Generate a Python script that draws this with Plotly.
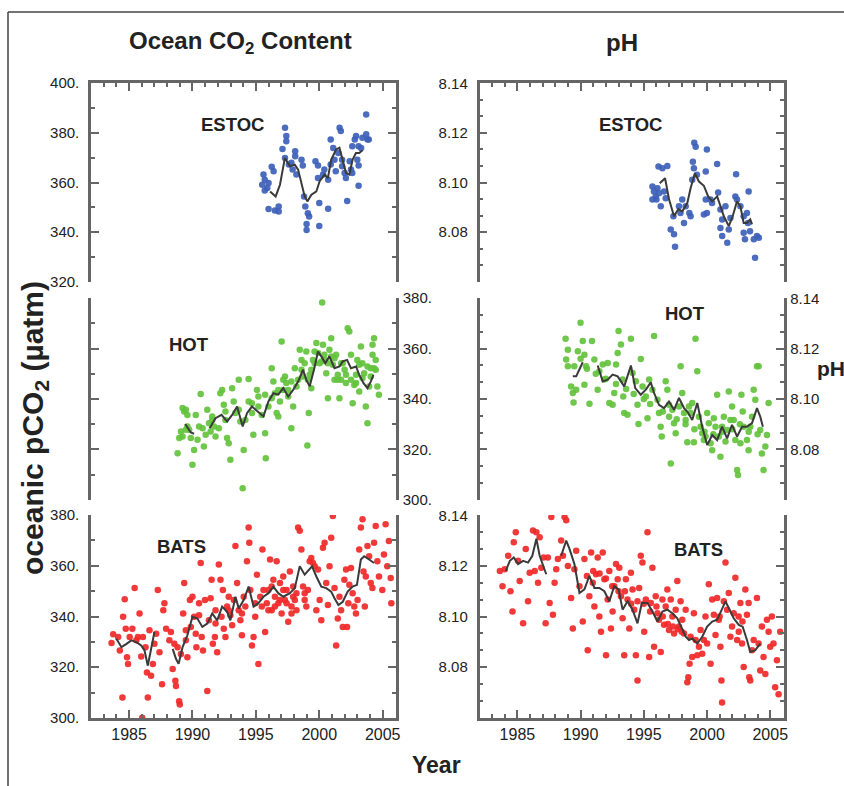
import plotly.graph_objects as go

# ---------------- DATA ----------------
years_axis_ticks = [1985, 1990, 1995, 2000, 2005]

# ESTOC pCO2
estoc_pco2_year = [1995.6,1995.7,1995.5,1995.9,1996.0,1995.7,1996.25,1996.4,1996.0,1996.5,1996.8,1996.8,1997.1,1997.3,1997.4,1997.4,1997.3,1997.6,1997.8,1998.1,1998.1,1997.9,1998.2,1998.6,1998.7,1998.8,1998.9,1999.1,1999.0,1999.0,1999.2,1999.7,1999.9,2000.0,2000.0,1999.9,2000.3,2000.4,2000.7,2000.7,2000.9,2000.9,2001.1,2001.2,2001.3,2001.5,2001.6,2001.7,2001.8,2001.8,2002.0,2002.1,2002.2,2002.4,2002.5,2002.6,2002.8,2002.9,2003.0,2003.1,2003.1,2003.3,2003.4,2003.7,2003.8,2003.9,2003.7,2003.1,2002.6]
estoc_pco2_val = [363.2,361.1,359.1,357.8,359.8,356.8,366.3,364.5,349.3,348.7,350.3,348.3,373.5,382.0,378.7,376.6,369.9,367.2,367.9,372.6,370.6,365.2,363.2,369.2,366.8,354.4,350.3,347.6,343.3,340.9,346.3,368.6,366.8,351.7,342.5,361.8,363.2,365.2,349.4,361.1,367.2,377.3,373.9,369.2,364.5,371.9,382.0,380.7,369.2,366.5,363.8,361.8,352.6,368.6,365.2,374.6,377.3,378.7,369.2,366.8,358.7,373.9,378.0,387.4,377.3,377.3,379.4,374.6,363.8]
estoc_pco2_line_year = [1996.12,1996.56,1996.9,1997.29,1997.68,1998.07,1998.33,1998.59,1998.85,1999.06,1999.38,1999.77,2000.03,2000.42,2000.68,2000.94,2001.33,2001.59,2001.85,2002.11,2002.37,2002.63,2002.89,2003.15,2003.41]
estoc_pco2_line_val = [356.4,354.4,359.1,369.9,366.5,367.2,365.2,359.1,354.4,352.4,355.1,356.4,360.5,363.2,361.8,369.2,373.3,374.0,369.2,363.8,363.2,369.2,371.9,371.9,373.0]

# ESTOC pH
estoc_ph_year = [1995.68,1995.8,1995.94,1995.68,1996.08,1996.2,1996.0,1996.16,1996.47,1996.86,1996.34,1996.73,1996.6,1997.13,1997.39,1997.47,1997.34,1997.78,1997.9,1998.18,1998.04,1998.31,1998.6,1998.7,1998.83,1998.88,1998.99,1999.1,1998.96,1999.2,1999.75,1999.99,1999.99,1999.9,1999.9,2000.27,2000.4,2000.8,2000.88,2001.06,2001.2,2001.06,2001.2,2001.46,2001.6,2001.72,2001.85,2002.3,2002.24,2002.37,2002.64,2002.9,2002.9,2003.0,2003.16,2003.29,2003.24,2003.4,2003.7,2003.8,2003.95,2004.1]
estoc_ph_val = [8.0984,8.0964,8.0944,8.0931,8.0977,8.0957,8.0931,8.1064,8.1057,8.1067,8.0904,8.0937,8.0964,8.0811,8.0791,8.0741,8.0864,8.0904,8.0877,8.0837,8.0931,8.0904,8.0877,8.0864,8.1011,8.1084,8.1160,8.1144,8.1057,8.1031,8.0871,8.0877,8.1133,8.1044,8.0931,8.0931,8.0917,8.1075,8.0960,8.0891,8.0851,8.0817,8.0784,8.0904,8.0757,8.0811,8.0857,8.1033,8.0944,8.0931,8.0904,8.0864,8.0797,8.0771,8.0877,8.0964,8.0837,8.0804,8.0771,8.0697,8.0784,8.0777]
estoc_ph_line_year = [1996.26,1996.68,1997.0,1997.39,1997.73,1998.04,1998.44,1998.7,1999.04,1999.36,1999.75,2000.09,2000.41,2000.8,2001.07,2001.33,2001.72,2002.03,2002.37,2002.64,2002.9,2003.16,2003.42,2003.56]
estoc_ph_line_val = [8.0997,8.1017,8.0931,8.0864,8.0893,8.0884,8.0917,8.0977,8.1037,8.1004,8.0987,8.0944,8.0924,8.0944,8.0904,8.0864,8.0824,8.0864,8.0924,8.0904,8.0837,8.0837,8.0851,8.0831]

# HOT pCO2
hot_pco2_year = [1988.83,1988.96,1989.09,1989.22,1989.35,1989.48,1989.6,1989.6,1989.74,1989.87,
                 1990.0,1990.13,1990.26,1990.4,1990.65,1990.8,1990.9,1991.04,1991.17,1991.3,
                 1991.43,1991.56,1991.7,1991.82,1992.08,1992.2,1992.34,1992.47,1992.6,1992.73,
                 1992.86,1992.99,1993.13,1993.25,1993.38,1993.65,1993.78,1994.04,1994.17,1994.43,
                 1994.43,1994.7,1994.8,1995.08,1995.2,1995.47,1995.73,1995.78,1995.99,1996.25,
                 1996.38,1996.5,1996.64,1996.77,1996.9,1997.03,1997.16,1997.3,1997.4,1997.55,
                 1997.8,1997.94,1998.07,1998.33,1998.46,1998.6,1998.7,1998.85,1998.98,1999.06,
                 1999.17,1999.24,1999.37,1999.5,1999.63,1999.77,1999.9,2000.03,2000.23,2000.29,
                 2000.4,2000.55,2000.68,2000.8,2000.94,2001.07,2001.2,2001.33,2001.46,2001.59,
                 2001.72,2001.85,2002.0,2002.1,2002.24,2002.37,2002.5,2002.63,2002.76,2002.9,
                 2003.0,2003.15,2003.28,2003.4,2003.54,2003.67,2003.8,2003.93,2004.06,2004.2,
                 2004.32,2004.45,2004.58,2004.7,2004.32,2004.2,1993.96,
                 1997.16,1997.55,1997.8,1998.2,1998.6,1999.1,1999.37,1999.63,2000.16,2000.42,
                 2000.68,2000.94,2001.2,2001.46,2001.72,2002.11,2002.5,2002.9,2003.15,2003.41,
                 2003.8,2004.06,2004.45,1994.69,1995.2,1995.73,1996.25,1996.77,1993.65,1992.6,
                 1991.56,1990.52,1989.48,1989.22]
hot_pco2_val = [318.5,324.5,327.1,336.4,335.0,335.7,333.7,329.1,327.8,324.5,
                313.9,319.8,333.7,323.8,342.0,328.4,321.2,325.8,335.7,330.4,
                327.1,333.1,329.1,325.1,328.4,342.3,343.6,337.7,331.7,324.5,
                322.5,315.9,344.3,339.0,334.4,347.6,331.1,319.8,331.7,347.9,
                339.0,334.4,325.8,343.6,337.0,333.7,326.4,316.5,337.0,352.2,
                346.9,342.3,334.4,333.1,339.0,362.8,343.6,348.9,346.3,341.0,
                328.4,337.0,352.2,347.6,359.5,355.5,348.9,354.2,358.8,321.6,
                334.4,349.6,344.3,355.5,358.8,362.2,358.2,354.2,378.3,361.5,
                357.5,350.2,340.3,359.5,364.1,353.6,347.6,357.5,349.6,340.3,
                347.6,354.2,351.6,346.3,368.1,366.8,357.5,338.3,345.6,349.6,
                355.5,343.0,360.8,354.2,350.2,337.0,330.4,345.0,352.2,357.5,
                364.1,355.5,345.0,341.7,352.2,361.5,304.6,
                347.6,343.6,346.9,345.0,351.6,347.6,351.6,354.2,354.9,355.5,
                354.2,356.9,356.2,347.6,354.2,349.6,347.6,346.3,353.6,348.3,
                352.9,348.9,351.6,338.3,341.0,341.7,340.3,343.6,335.7,335.0,
                331.7,329.1,327.8,325.1]
hot_pco2_line_year = [1989.43,1989.87,1990.13,None,1991.35,1991.82,1992.29,1992.73,1993.13,1993.52,1993.96,1994.3,1994.69,1995.2,1995.6,1995.99,1996.38,1996.77,1997.16,1997.55,1997.94,1998.33,1998.72,1998.98,1999.24,1999.58,1999.9,2000.2,2000.47,2000.8,2001.2,2001.59,2001.85,2002.19,2002.5,2002.9,2003.15,2003.49,2003.8,2004.06,2004.27]
hot_pco2_line_val = [330.1,326.7,326.2,None,328.4,332.4,333.7,331.1,333.7,337.0,329.1,334.4,337.0,335.0,333.1,339.0,342.3,341.7,344.3,341.0,343.6,346.9,351.6,347.6,345.0,351.6,358.8,356.6,354.2,356.9,352.2,352.9,354.9,355.5,352.2,352.9,349.6,346.3,344.3,346.9,349.6]

# HOT pH
hot_ph_year = [1988.81,1988.99,1988.86,1988.99,1989.25,1989.38,1989.44,1989.65,1989.78,1989.99,
               1990.17,1990.3,1990.43,1990.3,1990.7,1990.9,1991.09,1991.35,1991.48,1991.75,
               1991.88,1992.14,1992.27,1992.53,1992.66,1992.8,1992.93,1993.0,1993.19,1993.32,
               1993.37,1993.45,1993.71,1993.98,1994.11,1994.37,1994.5,1994.58,1994.76,1994.9,
               1995.16,1995.29,1995.42,1995.81,1995.68,1996.08,1996.2,1996.33,1996.42,1996.73,
               1996.86,1996.99,1997.13,1997.26,1997.39,1997.52,1997.78,1997.91,1998.04,1998.18,
               1998.31,1998.44,1998.57,1998.7,1998.83,1998.96,1999.09,1999.23,1999.36,1999.49,
               1999.62,1999.75,1999.88,2000.01,2000.14,2000.28,2000.41,2000.54,2000.67,2000.8,
               2000.93,2001.06,2001.19,2001.33,2001.46,2001.59,2001.72,2001.85,2001.98,2002.11,
               2002.24,2002.38,2002.45,2002.64,2002.72,2002.82,2002.9,2003.16,2003.29,2003.42,
               2003.56,2003.69,2003.82,2003.95,2004.08,2004.21,2004.34,2004.47,2004.61,2004.74,
               2004.87,
               1990.5,1991.2,1992.0,1992.8,1993.6,1994.2,1995.0,1995.5,1996.5,1997.0,
               1997.6,1998.3,1999.0,1999.8,2000.5,2001.2,2002.0,2002.6,2003.3,2004.0,
               1990.0,1989.5]
hot_ph_val = [8.1239,8.1196,8.1157,8.1130,8.1050,8.1024,8.0986,8.1037,8.1190,8.1303,
              8.1230,8.1176,8.1130,8.1057,8.0981,8.1230,8.1157,8.1037,8.1110,8.1137,
              8.1077,8.1143,8.0984,8.0977,8.1024,8.1137,8.1183,8.1270,8.1216,8.1077,
              8.1010,8.0944,8.0937,8.1239,8.1103,8.1070,8.0977,8.0901,8.1159,8.1050,
              8.1010,8.0924,8.1077,8.1250,8.1037,8.0997,8.0944,8.0890,8.0851,8.1070,
              8.1037,8.0977,8.0744,8.0957,8.0904,8.0864,8.0970,8.1130,8.1024,8.0944,
              8.0917,8.0828,8.0970,8.0944,8.0984,8.0828,8.1239,8.1110,8.0930,8.0890,
              8.0864,8.0837,8.0851,8.0944,8.0904,8.0824,8.0797,8.0924,8.0890,8.1017,
              8.0851,8.0771,8.0890,8.0930,8.0831,8.0877,8.1030,8.0917,8.0970,8.0917,
              8.0837,8.0718,8.0698,8.0824,8.1017,8.0950,8.0890,8.0837,8.0797,8.0890,
              8.0930,8.1037,8.0997,8.1130,8.1130,8.0877,8.0784,8.0718,8.0811,8.0857,
              8.0984,
              8.1120,8.1100,8.1080,8.1060,8.1040,8.1020,8.1000,8.0980,8.0950,8.0930,
              8.0920,8.0900,8.0880,8.0870,8.0860,8.0870,8.0880,8.0900,8.0870,8.0860,
              8.1160,8.1130]
hot_ph_line_year = [1989.38,1989.65,1989.9,1990.17,None,1991.35,1991.75,1992.14,1992.53,1992.93,1993.45,1993.98,1994.32,1994.76,1995.16,1995.55,1995.81,1996.2,1996.6,1996.99,1997.39,1997.78,1998.18,1998.44,1998.83,1999.23,1999.62,2000.01,2000.41,2000.8,2001.19,2001.59,2001.98,2002.38,2002.77,2003.16,2003.56,2003.95,2004.21,2004.42]
hot_ph_line_val = [8.1090,8.1090,8.1117,8.1146,None,8.1133,8.1070,8.1077,8.1097,8.1090,8.1050,8.1133,8.1043,8.1017,8.1037,8.1066,8.1024,8.0977,8.0964,8.0990,8.0957,8.1004,8.0964,8.0950,8.0917,8.0984,8.0890,8.0817,8.0857,8.0837,8.0890,8.0844,8.0897,8.0851,8.0890,8.0890,8.0904,8.0964,8.0930,8.0890]

# BATS pCO2
bats_pco2_year = [1983.62,1983.75,1984.14,1984.27,1984.48,1984.53,1984.66,1984.74,1984.84,1984.92,
                  1985.05,1985.26,1985.44,1985.57,1985.7,1985.83,1985.96,1986.04,1986.09,1986.3,
                  1986.41,1986.48,1986.61,1986.74,1986.88,1987.0,1987.14,1987.27,1987.4,1987.6,
                  1987.7,1987.79,1987.92,1988.18,1988.3,1988.44,1988.57,1988.65,1988.7,1988.83,
                  1988.95,1989.0,1989.09,1989.27,1989.35,1989.48,1989.6,1989.8,1989.87,1990.0,
                  1990.13,1990.26,1990.31,1990.52,1990.65,1990.73,1990.83,1990.99,1991.17,1991.3,
                  1991.43,1991.51,1991.61,1991.77,1991.82,1991.95,1992.08,1992.21,1992.29,1992.4,
                  1992.47,1992.6,1992.73,1992.86,1992.99,1993.13,1993.26,1993.39,1993.52,1993.65,
                  1993.78,1993.9,1994.04,1994.17,1994.3,1994.43,1994.48,1994.56,1994.69,1994.82,
                  1994.95,1995.08,1995.2,1995.34,1995.47,1995.52,1995.6,1995.73,1995.86,1995.99,
                  1996.12,1996.25,1996.38,1996.5,1996.64,1996.77,1996.9,1997.03,1997.16,1997.29,
                  1997.42,1997.55,1997.68,1997.81,1997.94,1998.07,1998.2,1998.33,1998.46,1998.59,
                  1998.72,1998.85,1998.98,1999.1,1999.24,1999.37,1999.5,1999.64,1999.77,1999.9,
                  2000.03,2000.16,2000.29,2000.42,2000.55,2000.68,2000.81,2000.94,2001.07,2001.2,
                  2001.33,2001.46,2001.59,2001.72,2001.85,2001.98,2002.11,2002.19,2002.29,2002.37,
                  2002.5,2002.63,2002.76,2002.89,2003.02,2003.15,2003.28,2003.41,2003.49,2003.59,
                  2003.67,2003.8,2003.93,2004.06,2004.19,2004.32,2004.45,2004.58,2004.71,2004.97,
                  2005.1,2005.23,2005.36,2005.49,2005.63,2005.68,
                  1995.99,1996.5,1996.9,1997.42,1997.81,1998.2,1996.25,1997.16,1997.94,1998.85,
                  1994.95,1993.9,1992.86,1991.82,1990.52,1989.48]
bats_pco2_val = [329.5,333.0,331.9,326.6,308.0,339.9,346.8,335.2,323.9,321.3,
                 331.9,335.2,351.2,330.6,331.9,341.2,324.2,300.0,331.9,327.9,
                 317.9,308.0,334.6,316.6,321.3,329.2,333.2,350.5,325.9,313.3,
                 342.5,345.2,335.2,330.6,333.9,319.3,329.2,314.6,312.6,327.9,
                 306.6,305.3,325.2,341.2,353.2,330.6,323.9,346.5,335.9,347.8,
                 339.9,333.2,327.9,345.2,361.1,331.9,326.6,346.5,310.6,338.5,
                 347.2,354.5,329.2,331.9,337.2,325.9,360.5,354.5,339.9,350.5,
                 335.2,331.9,343.9,347.8,340.5,336.5,346.5,367.8,353.2,342.5,
                 338.5,332.6,347.8,343.9,361.8,375.1,369.1,350.5,328.6,331.9,
                 345.2,356.5,321.3,347.8,343.9,366.4,350.5,333.9,345.2,350.5,
                 362.5,342.5,354.5,347.8,361.8,345.2,353.2,341.2,355.8,346.5,
                 350.5,337.9,357.8,343.9,351.8,346.5,349.2,375.1,373.8,366.4,
                 351.8,346.5,343.9,350.5,361.8,363.1,361.1,359.8,342.5,358.5,
                 346.5,338.5,367.1,369.1,353.2,344.5,359.8,371.1,379.7,351.2,
                 328.6,339.2,347.8,342.5,335.9,354.5,358.5,335.9,345.2,352.5,
                 359.1,349.2,343.9,341.2,346.5,366.4,375.1,378.4,357.8,343.9,
                 355.8,367.8,363.8,353.2,351.2,369.1,375.7,361.8,355.8,350.5,
                 364.5,376.4,359.8,369.8,355.2,345.2,
                 342.5,343.9,346.5,345.2,341.2,342.5,351.8,350.5,347.8,349.2,
                 339.9,341.2,342.5,342.5,340.5,334.6]
bats_pco2_line_year = [1984.0,1984.4,1984.8,1985.18,1985.57,1985.96,1986.22,1986.48,1986.74,1987.0,None,1988.44,1988.7,1988.91,1989.22,1989.6,1990.0,1990.39,1990.78,1991.17,1991.56,1991.95,1992.34,1992.73,1992.99,1993.39,1993.65,1994.04,1994.43,1994.82,1995.2,1995.6,1995.99,1996.38,1996.77,1997.16,1997.68,1998.07,1998.46,1998.85,1999.17,1999.43,1999.77,2000.16,2000.55,2000.94,2001.2,2001.51,2001.85,2002.24,2002.63,2002.97,2003.28,2003.54,2003.93,2004.32]
bats_pco2_line_val = [331.2,327.9,329.2,330.6,329.9,328.6,326.6,320.6,327.2,333.9,None,327.2,323.3,321.3,327.9,332.6,339.9,339.2,335.9,337.2,341.2,338.5,343.9,341.9,338.5,347.8,343.2,346.5,351.8,343.9,345.2,347.8,349.2,351.8,349.2,347.8,349.2,351.2,359.8,356.5,358.5,359.8,355.8,351.8,351.2,349.8,347.2,344.5,345.8,349.8,351.8,352.5,362.5,363.8,362.5,361.1]

# BATS pH
bats_ph_year = [1983.61,1983.82,1984.0,1984.27,1984.45,1984.61,1984.71,1984.87,1985.05,1985.18,
                1985.45,1985.66,1985.84,1985.97,1986.23,1986.37,1986.5,1986.63,1986.76,1986.89,
                1987.07,1987.23,1987.41,1987.55,1987.68,1987.81,1987.94,1988.07,1988.2,1988.46,
                1988.6,1988.73,1988.86,1988.99,1989.25,1989.38,1989.51,1989.65,1989.91,1990.17,
                1990.3,1990.56,1990.69,1990.83,1990.96,1991.09,1991.22,1991.35,1991.48,1991.61,
                1991.75,1991.88,1992.01,1992.14,1992.27,1992.4,1992.53,1992.66,1992.8,1992.93,
                1993.06,1993.19,1993.32,1993.45,1993.58,1993.71,1993.85,1993.98,1994.11,1994.24,
                1994.37,1994.5,1994.63,1994.76,1994.89,1995.03,1995.16,1995.29,1995.42,1995.55,
                1995.68,1995.81,1995.94,1996.08,1996.2,1996.34,1996.47,1996.6,1996.73,1996.86,
                1996.99,1997.13,1997.26,1997.39,1997.52,1997.65,1997.78,1997.91,1998.04,1998.18,
                1998.31,1998.44,1998.52,1998.62,1998.7,1998.83,1998.96,1999.1,1999.23,1999.36,
                1999.49,1999.62,1999.75,1999.88,2000.01,2000.14,2000.28,2000.41,2000.54,2000.67,
                2000.8,2000.93,2001.06,2001.14,2001.19,2001.33,2001.46,2001.59,2001.72,2001.85,
                2001.98,2002.11,2002.24,2002.38,2002.51,2002.64,2002.77,2002.9,2003.03,2003.16,
                2003.29,2003.34,2003.42,2003.56,2003.69,2003.95,2004.08,2004.21,2004.34,2004.47,
                2004.61,2004.74,2004.87,2005.0,2005.13,2005.26,2005.39,2005.53,2005.66,2005.79,
                1996.5,1996.9,1997.3,1997.7,1998.0,1996.0,1995.5,1995.0,1994.5,1994.0,
                1993.5,1993.0,1992.5,1992.0,1991.5,1991.0,1990.5,2002.5,2002.8,2001.0]
bats_ph_val = [8.1180,8.1120,8.1187,8.1240,8.1100,8.1020,8.1293,8.1333,8.1220,8.1140,
               8.0973,8.1267,8.1060,8.1173,8.1340,8.1180,8.1333,8.1133,8.1313,8.1193,
               8.1233,8.0973,8.1233,8.1053,8.1393,8.1007,8.1133,8.1187,8.1227,8.1300,
               8.1240,8.1393,8.1380,8.1200,8.1073,8.0953,8.1187,8.1260,8.1120,8.0980,
               8.1227,8.0867,8.1080,8.1253,8.1133,8.1040,8.1167,8.1233,8.1000,8.0940,
               8.1253,8.1147,8.0847,8.1067,8.1180,8.0953,8.1020,8.1120,8.1207,8.1147,
               8.1193,8.1080,8.0993,8.0847,8.1147,8.1067,8.0953,8.1173,8.1107,8.1027,
               8.0847,8.0747,8.1113,8.1240,8.1213,8.0940,8.1067,8.1333,8.0840,8.1053,
               8.1193,8.0880,8.1080,8.1013,8.0987,8.0860,8.1067,8.0967,8.1040,8.1107,
               8.0947,8.1067,8.1000,8.0933,8.1027,8.1140,8.0960,8.1060,8.0987,8.0933,
               8.1027,8.0740,8.0760,8.0813,8.0920,8.0840,8.1013,8.0907,8.0847,8.0880,
               8.0947,8.0853,8.0907,8.1000,8.0893,8.1127,8.0813,8.1067,8.1007,8.0927,
               8.1073,8.0987,8.0880,8.0747,8.0660,8.1060,8.1213,8.1027,8.1093,8.0920,
               8.0960,8.1013,8.1153,8.0907,8.0940,8.1053,8.0893,8.0800,8.1107,8.1007,
               8.1053,8.0760,8.0747,8.0867,8.0907,8.1073,8.0893,8.0787,8.0960,8.0840,
               8.0773,8.0987,8.0940,8.0880,8.1000,8.0893,8.0720,8.0827,8.0693,8.0940,
               8.1000,8.0970,8.0960,8.0950,8.0940,8.1040,8.1020,8.1050,8.1060,8.1050,
               8.1100,8.1100,8.1120,8.1150,8.1170,8.1180,8.1160,8.1000,8.0980,8.1000]
bats_ph_line_year = [1984.08,1984.4,1984.71,1985.05,1985.45,1985.84,1986.18,1986.5,1986.76,1987.02,1987.28,None,1988.46,1988.86,1989.12,1989.51,1989.91,1990.3,1990.69,1991.09,1991.48,1991.88,1992.27,1992.66,1993.0,1993.32,1993.71,1994.11,1994.5,1994.84,1995.29,1995.68,1996.08,1996.47,1996.86,1997.26,1997.65,1998.04,1998.31,1998.57,1998.83,1999.23,1999.62,2000.01,2000.41,2000.8,2001.14,2001.46,2001.78,2002.11,2002.51,2002.82,2003.16,2003.42,2003.82,2004.21]
bats_ph_line_val = [8.1180,8.1220,8.1233,8.1207,8.1220,8.1213,8.1240,8.1307,8.1240,8.1207,8.1167,None,8.1240,8.1300,8.1267,8.1207,8.1093,8.1107,8.1160,8.1113,8.1113,8.1100,8.1060,8.1120,8.1107,8.1027,8.1060,8.1027,8.0973,8.1053,8.1053,8.1020,8.0980,8.1020,8.1027,8.1013,8.0993,8.0953,8.0920,8.0907,8.0913,8.0893,8.0920,8.0960,8.0980,8.0987,8.1027,8.1060,8.1027,8.0993,8.0967,8.0960,8.0907,8.0860,8.0867,8.0893]

# ---------------- STYLE / LAYOUT ----------------
W, H = 844, 786
FRAME = '#666666'
TXT = '#222222'
FONT = 'Liberation Sans, Arial, sans-serif'
BLUE = '#3d5fb8'
GREEN = '#63c23c'
RED = '#f02828'
TREND = '#3a3a3a'


def fx(x):
    return x / W


def fy(y):
    return 1 - y / H


XL = [fx(91), fx(396)]
XR = [fx(479.5), fx(783.5)]
YT = [fy(282), fy(83)]
YM = [fy(500), fy(298)]
YB = [fy(718), fy(515)]

fig = go.Figure()

panels = [
    (1, estoc_pco2_year, estoc_pco2_val, estoc_pco2_line_year, estoc_pco2_line_val, BLUE),
    (2, estoc_ph_year, estoc_ph_val, estoc_ph_line_year, estoc_ph_line_val, BLUE),
    (3, hot_pco2_year, hot_pco2_val, hot_pco2_line_year, hot_pco2_line_val, GREEN),
    (4, hot_ph_year, hot_ph_val, hot_ph_line_year, hot_ph_line_val, GREEN),
    (5, bats_pco2_year, bats_pco2_val, bats_pco2_line_year, bats_pco2_line_val, RED),
    (6, bats_ph_year, bats_ph_val, bats_ph_line_year, bats_ph_line_val, RED),
]
for i, xs, ys, lx, ly, col in panels:
    sfx = '' if i == 1 else str(i)
    fig.add_trace(go.Scatter(x=xs, y=ys, mode='markers', xaxis='x' + sfx, yaxis='y' + sfx,
                             marker=dict(size=6.5, color=col, opacity=0.92, line=dict(width=0)),
                             showlegend=False, hoverinfo='skip'))
    fig.add_trace(go.Scatter(x=lx, y=ly, mode='lines', xaxis='x' + sfx, yaxis='y' + sfx,
                             line=dict(color=TREND, width=2), connectgaps=False,
                             showlegend=False, hoverinfo='skip'))

tickfont = dict(size=15, color=TXT, family=FONT)


def xaxis(dom, anchor, kind):
    d = dict(domain=dom, anchor=anchor, range=[1982, 2006.05], showgrid=False, zeroline=False,
             fixedrange=True, automargin=False)
    if kind == 'mid':
        d.update(visible=False)
        return d
    d.update(showline=True, linecolor=FRAME, linewidth=2.5, mirror=False,
             ticks='inside', ticklen=8, tickwidth=2, tickcolor=FRAME,
             tickmode='array', tickvals=years_axis_ticks,
             ticktext=[str(v) for v in years_axis_ticks],
             minor=dict(ticks='inside', ticklen=4, tickwidth=2, tickcolor=FRAME,
                        tickmode='linear', tick0=1985, dtick=1, showgrid=False),
             tickfont=dict(size=16, color=TXT, family=FONT))
    if kind == 'top':
        d.update(side='top', showticklabels=False)
    else:
        d.update(side='bottom', ticklabelstandoff=0)
    return d


def yaxis(dom, anchor, kind, side):
    d = dict(domain=dom, anchor=anchor, showgrid=False, zeroline=False, fixedrange=True,
             automargin=False,
             showline=True, linecolor=FRAME, linewidth=2.5, mirror='ticks',
             ticks='inside', ticklen=8, tickwidth=2, tickcolor=FRAME,
             side=side, tickfont=tickfont,
             ticklabelstandoff=6 if side == 'left' else 1)
    if kind == 'co2top':
        d.update(range=[319.95, 400.05], tickmode='linear', tick0=0, dtick=20, ticksuffix='.',
                 minor=dict(ticks='inside', ticklen=4, tickwidth=2, tickcolor=FRAME,
                            tickmode='linear', tick0=0, dtick=10, showgrid=False))
    elif kind == 'co2':
        d.update(range=[299.95, 380.05], tickmode='linear', tick0=0, dtick=20, ticksuffix='.',
                 minor=dict(ticks='inside', ticklen=4, tickwidth=2, tickcolor=FRAME,
                            tickmode='linear', tick0=0, dtick=10, showgrid=False))
    else:
        d.update(range=[8.0599, 8.1401], tickmode='array',
                 tickvals=[8.08, 8.10, 8.12, 8.14],
                 ticktext=['8.08', '8.10', '8.12', '8.14'],
                 minor=dict(ticks='inside', ticklen=4, tickwidth=2, tickcolor=FRAME,
                            tickmode='linear', tick0=8.06, dtick=0.02 / 3, showgrid=False))
    return d


fig.update_layout(
    width=W, height=H, autosize=False,
    margin=dict(l=0, r=0, t=0, b=0, pad=0, autoexpand=False),
    paper_bgcolor='white', plot_bgcolor='white', showlegend=False,
    xaxis=xaxis(XL, 'y', 'top'), yaxis=yaxis(YT, 'x', 'co2top', 'left'),
    xaxis2=xaxis(XR, 'y2', 'top'), yaxis2=yaxis(YT, 'x2', 'ph', 'left'),
    xaxis3=xaxis(XL, 'y3', 'mid'), yaxis3=yaxis(YM, 'x3', 'co2', 'right'),
    xaxis4=xaxis(XR, 'y4', 'mid'), yaxis4=yaxis(YM, 'x4', 'ph', 'right'),
    xaxis5=xaxis(XL, 'y5', 'bot'), yaxis5=yaxis(YB, 'x5', 'co2', 'left'),
    xaxis6=xaxis(XR, 'y6', 'bot'), yaxis6=yaxis(YB, 'x6', 'ph', 'left'),
)


def note(text, x, y, size, angle=0, xanchor='center'):
    fig.add_annotation(text=text, x=fx(x), y=fy(y), xref='paper', yref='paper',
                       xanchor=xanchor, yanchor='middle', showarrow=False, textangle=angle,
                       font=dict(size=size, color=TXT, family=FONT))


note('<b>Ocean CO<sub>2</sub> Content</b>', 240, 43, 24)
note('<b>pH</b>', 622, 43, 24)
note('<b>Year</b>', 436, 765, 23)
note('<b>oceanic pCO<sub>2</sub> (µatm)</b>', 34, 428, 30, angle=-90)
note('<b>pH</b>', 815, 369, 21, xanchor='left')
note('<b>ESTOC</b>', 232, 125, 18.5)
note('<b>ESTOC</b>', 630, 125, 18.5)
note('<b>HOT</b>', 189, 344, 18.5)
note('<b>HOT</b>', 685, 314, 18.5)
note('<b>BATS</b>', 181, 546, 18.5)
note('<b>BATS</b>', 698, 549, 18.5)

# outer frame lines (top and left edges)
fig.add_shape(type='line', xref='paper', yref='paper', x0=fx(8), x1=1.0, y0=fy(12), y1=fy(12),
              line=dict(color='#444444', width=1.5))
fig.add_shape(type='line', xref='paper', yref='paper', x0=fx(8), x1=fx(8), y0=fy(12), y1=0,
              line=dict(color='#444444', width=1.5))

page_fix = (
    "var gd=document.getElementById('{plot_id}');"
    "var s='margin:0;padding:0;overflow:hidden;width:844px;height:786px;';"
    "document.documentElement.style.cssText=s;document.body.style.cssText=s;"
    "gd.style.position='absolute';gd.style.left='0px';gd.style.top='0px';"
)
fig.write_html('out.html', config={'displayModeBar': False}, post_script=page_fix)
